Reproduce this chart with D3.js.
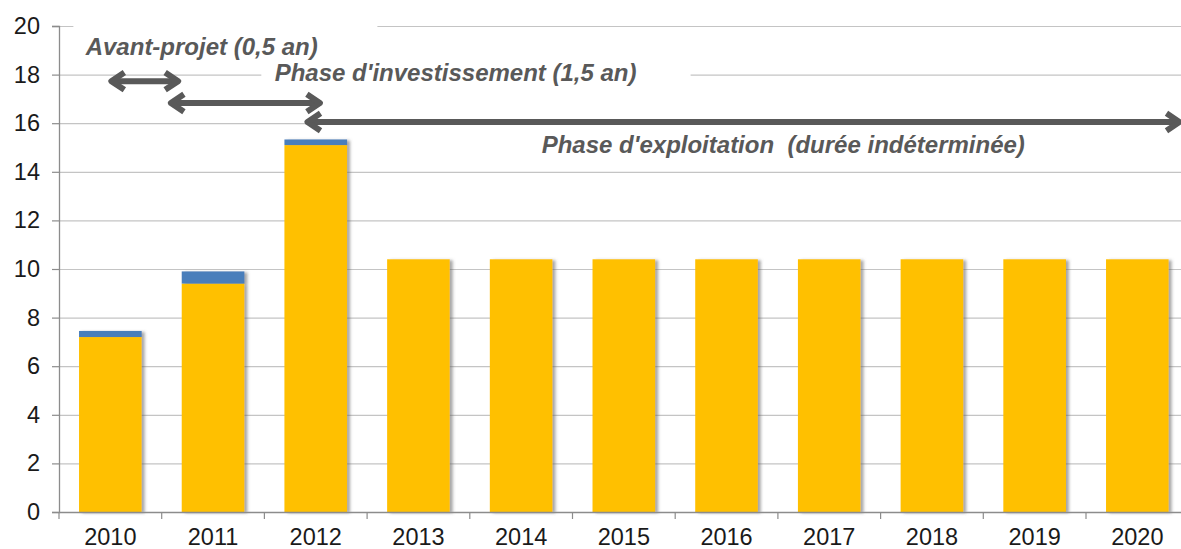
<!DOCTYPE html>
<html>
<head>
<meta charset="utf-8">
<script src="https://cdn.jsdelivr.net/npm/d3@7"></script>
<style>
  html, body { margin: 0; padding: 0; background: #fff; overflow: hidden; }
  svg { display: block; font-family: "Liberation Sans", Arial, sans-serif; }
</style>
</head>
<body>
<div id="chart"></div>
<script>
  // values
  const years = ["2010", "2011", "2012", "2013", "2014", "2015", "2016", "2017", "2018", "2019", "2020"];
  const baseValues = [7.2, 9.4, 15.1, 10.4, 10.4, 10.4, 10.4, 10.4, 10.4, 10.4, 10.4];
  const topValues = [0.25, 0.5, 0.23, 0, 0, 0, 0, 0, 0, 0, 0];
  const yTicks = [0, 2, 4, 6, 8, 10, 12, 14, 16, 18, 20];

  // phase arrows, in years from the 2010 bar centre and in y units
  const phaseArrows = [
    { from: 0, to: 0.67, at: 17.73 },
    { from: 0.58, to: 2.05, at: 16.83 },
    { from: 1.91, to: 10.42, at: 16.05 }
  ];
  const phaseLabels = [
    { text: "Avant-projet (0,5 an)", at: -0.24, y: 18.8, box: [-0.36, 2.6, 20.3, 18.3] },
    { text: "Phase d'investissement (1,5 an)", at: 1.6, y: 17.73, box: [1.47, 5.65, 18.4, 17.2] },
    { text: "Phase d'exploitation  (durée indéterminée)", at: 4.2, y: 14.77, box: null }
  ];

  const width = 1181, height = 549;
  const margin = { left: 59, top: 26, bottom: 37 };
  const plotRight = margin.left + 11 * 102.7;

  const svg = d3.select("#chart")
    .append("svg")
    .attr("width", width)
    .attr("height", height)
    .attr("viewBox", `0 0 ${width} ${height}`);

  const defs = svg.append("defs");
  defs.append("filter")
    .attr("id", "shadow")
    .attr("x", "-10%").attr("y", "-5%")
    .attr("width", "130%").attr("height", "115%")
    .append("feDropShadow")
    .attr("dx", 3).attr("dy", 1)
    .attr("stdDeviation", 1.6)
    .attr("flood-color", "#606060")
    .attr("flood-opacity", 0.55);

  const x = d3.scaleBand()
    .domain(years)
    .range([margin.left, plotRight])
    .paddingInner(0.39)
    .paddingOuter(0.195);

  const y = d3.scaleLinear()
    .domain([0, 20])
    .range([height - margin.bottom, margin.top]);

  const step = x.step();
  const x0 = x(years[0]) + x.bandwidth() / 2;
  const pos = t => x0 + t * step;

  // gridlines
  svg.append("g")
    .selectAll("line")
    .data(yTicks.filter(d => d > 0))
    .enter()
    .append("line")
    .attr("x1", margin.left)
    .attr("x2", plotRight)
    .attr("y1", d => y(d) + 0.5)
    .attr("y2", d => y(d) + 0.5)
    .style("stroke", "#c4c4c4")
    .style("stroke-width", 1.2);

  // bars
  const stacks = years.map((yr, i) => ({ year: yr, base: baseValues[i], top: topValues[i] }));
  const barG = svg.append("g").selectAll("g")
    .data(stacks)
    .enter()
    .append("g")
    .attr("filter", "url(#shadow)");

  barG.append("rect")
    .attr("x", d => x(d.year))
    .attr("width", x.bandwidth())
    .attr("y", d => y(d.base))
    .attr("height", d => y(0) - y(d.base))
    .attr("fill", "#ffc000");

  barG.filter(d => d.top > 0)
    .append("rect")
    .attr("x", d => x(d.year))
    .attr("width", x.bandwidth())
    .attr("y", d => y(d.base + d.top))
    .attr("height", d => y(d.base) - y(d.base + d.top))
    .attr("fill", "#4a7ebb");

  // y axis
  const yAxis = svg.append("g")
    .attr("transform", `translate(${margin.left},0)`)
    .call(d3.axisLeft(y).tickValues(yTicks).tickSize(7).tickPadding(12));
  yAxis.select(".domain").attr("stroke", "#8c8c8c").attr("stroke-width", 1.3);
  yAxis.selectAll(".tick line").attr("stroke", "#8c8c8c").attr("stroke-width", 1.2);
  yAxis.selectAll("text").style("font-size", "23.5px").attr("fill", "#1a1a1a");

  // x axis
  const xAxis = svg.append("g")
    .attr("transform", `translate(0,${y(0)})`)
    .call(d3.axisBottom(x).tickSize(0).tickPadding(15));
  xAxis.select(".domain").attr("stroke", "#8c8c8c").attr("stroke-width", 1.3);
  xAxis.selectAll("text").style("font-size", "23.5px").attr("fill", "#1a1a1a").attr("dy", "0.75em");
  xAxis.append("g")
    .selectAll("line")
    .data(years)
    .enter()
    .append("line")
    .attr("x1", d => x(d) - (step - x.bandwidth()) / 2)
    .attr("x2", d => x(d) - (step - x.bandwidth()) / 2)
    .attr("y1", 0)
    .attr("y2", 7)
    .attr("stroke", "#8c8c8c")
    .attr("stroke-width", 1.2);

  // phase labels with white boxes and arrows
  const annot = svg.append("g");
  phaseLabels.forEach(lab => {
    if (lab.box) {
      annot.append("rect")
        .attr("x", pos(lab.box[0]))
        .attr("width", pos(lab.box[1]) - pos(lab.box[0]))
        .attr("y", y(lab.box[2]))
        .attr("height", y(lab.box[3]) - y(lab.box[2]))
        .attr("fill", "#fff");
    }
    annot.append("text")
      .attr("x", pos(lab.at))
      .attr("y", y(lab.y))
      .style("font-size", "24px")
      .style("font-weight", "bold")
      .style("font-style", "italic")
      .style("white-space", "pre")
      .attr("fill", "#595959")
      .text(lab.text);
  });

  const head = 14;
  phaseArrows.forEach(a => {
    const xa = pos(a.from), xb = pos(a.to), ya = y(a.at);
    const g = annot.append("g")
      .attr("fill", "none")
      .attr("stroke", "#595959")
      .attr("stroke-width", 6)
      .attr("stroke-linejoin", "round");
    g.append("line")
      .attr("x1", xa + 2).attr("x2", xb - 2)
      .attr("y1", ya).attr("y2", ya);
    g.append("path")
      .attr("d", `M${xa + head},${ya - head * 0.62}L${xa + 1},${ya}L${xa + head},${ya + head * 0.62}`);
    g.append("path")
      .attr("d", `M${xb - head},${ya - head * 0.62}L${xb - 1},${ya}L${xb - head},${ya + head * 0.62}`);
  });
</script>
</body>
</html>
